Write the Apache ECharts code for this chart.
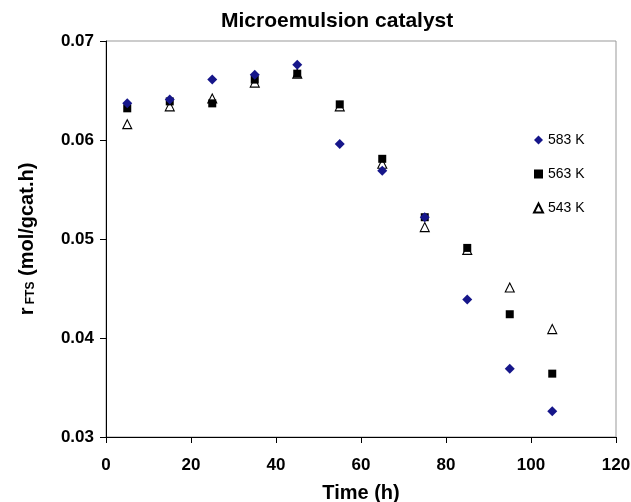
<!DOCTYPE html>
<html><head><meta charset="utf-8">
<script src="https://cdn.jsdelivr.net/npm/echarts@6/dist/echarts.min.js"></script>
<style>html,body{margin:0;padding:0;background:#fff}#c{width:631px;height:502px}</style>
</head><body><div id="c"></div>
<script>
var timeH = [5, 15, 25, 35, 45, 55, 65, 75, 85, 95, 105];
var r583 = [0.0637, 0.0641, 0.0661, 0.0666, 0.0676, 0.0596, 0.0569, 0.0522, 0.0439, 0.0369, 0.0326];
var r563 = [0.0632, 0.0639, 0.0637, 0.0661, 0.0667, 0.0636, 0.0581, 0.0522, 0.0491, 0.0424, 0.0364];
var r543 = [0.0616, 0.0634, 0.0642, 0.0658, 0.0667, 0.0634, 0.0576, 0.0512, 0.0489, 0.0451, 0.0409];
var seriesNames = ['583 K', '563 K', '543 K'];

function pairs(ys){ return timeH.map(function(t,i){ return [t, ys[i]]; }); }
var FONT = 'Liberation Sans, Arial, sans-serif';
var chart = echarts.init(document.getElementById('c'), null, {renderer:'canvas'});
chart.setOption({
  animation: false,
  backgroundColor: '#fff',
  title: {
    text: 'Microemulsion catalyst', left: 216, top: 6,
    textStyle: {fontFamily: FONT, fontSize: 21, fontWeight: 'bold', color: '#000'}
  },
  legend: {
    orient: 'vertical', left: 528, top: 128, itemGap: 20,
    itemWidth: 9, itemHeight: 9,
    textStyle: {fontFamily: FONT, fontSize: 14, color: '#000'},
    data: seriesNames
  },
  grid: {left: 106, right: 15, top: 41, bottom: 65, show: true, borderColor: '#999', borderWidth: 1,
         containLabel: false, outerBoundsMode: 'none'},
  xAxis: {
    type: 'value', min: 0, max: 120, interval: 20,
    name: 'Time (h)', nameLocation: 'middle', nameGap: 46,
    nameTextStyle: {fontFamily: FONT, fontSize: 20, fontWeight: 'bold', color: '#000'},
    axisLine: {lineStyle: {color: '#000', width: 1}},
    axisTick: {show: true, inside: false, length: 6, lineStyle: {color: '#000'}},
    axisLabel: {fontFamily: FONT, fontSize: 17, fontWeight: 'bold', color: '#000', margin: 20},
    splitLine: {show: false}
  },
  yAxis: {
    type: 'value', min: 0.03, max: 0.07, interval: 0.01,
    name: '{a|r}{b| FTS}{a| (mol/gcat.h)}', nameLocation: 'middle', nameGap: 69, nameRotate: 90,
    nameTextStyle: {rich: {
      a: {fontFamily: FONT, fontSize: 20, fontWeight: 'bold', color: '#000'},
      b: {fontFamily: FONT, fontSize: 12, fontWeight: 'bold', color: '#000', verticalAlign: 'bottom', padding:[8,0,0,0]}
    }},
    axisLine: {show: true, lineStyle: {color: '#000', width: 1}},
    axisTick: {show: true, inside: false, length: 6, lineStyle: {color: '#000'}},
    axisLabel: {fontFamily: FONT, fontSize: 17, fontWeight: 'bold', color: '#000', margin: 12,
      formatter: function(v){ return v.toFixed(2); }},
    splitLine: {show: false}
  },
  series: [
    {name: seriesNames[0], type: 'scatter', data: pairs(r583), symbol: 'diamond', symbolSize: 10, z: 4,
     itemStyle: {color: '#16168a', opacity: 1}},
    {name: seriesNames[1], type: 'scatter', data: pairs(r563), symbol: 'rect', symbolSize: 8, z: 3,
     itemStyle: {color: '#000', opacity: 1}},
    {name: seriesNames[2], type: 'scatter', data: pairs(r543), symbol: 'triangle', symbolSize: 9, z: 2,
     itemStyle: {color: 'rgba(255,255,255,0)', borderColor: '#000', borderWidth: 1.1, opacity: 1}}
  ]
});
</script></body></html>
